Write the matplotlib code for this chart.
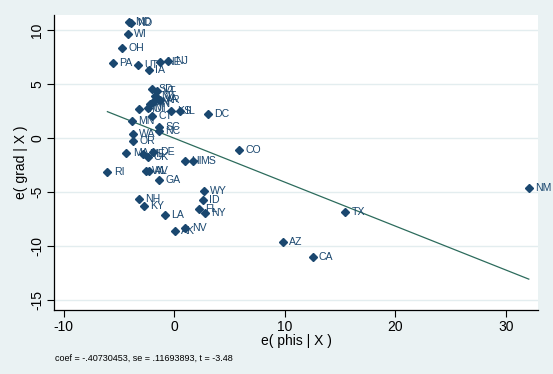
import matplotlib
matplotlib.use("Agg")
import matplotlib.pyplot as plt
import numpy as np

states = ["MD", "ND", "WI", "OH", "PA", "UT", "IA", "NE", "NJ",
          "SD", "VT", "MT", "VA", "AR", "IN", "TN",
          "MO", "MI", "CT", "KS", "IL", "DC",
          "MN", "WA", "OR", "SC", "NC",
          "MA", "ME", "DE", "OK",
          "RI", "WV", "AL", "GA", "HI", "MS", "CO",
          "WY", "ID", "FL", "NY", "NH", "KY", "LA", "NV", "AK",
          "AZ", "CA", "TX", "NM"]
e_phis = [-4.10, -3.92, -4.22, -4.73, -5.57, -3.31, -2.29, -1.29, -0.54,
          -2.05, -1.57, -1.75, -1.45, -1.29, -1.93, -2.20,
          -3.19, -2.38, -2.02, -0.30, 0.52, 3.02,
          -3.86, -3.76, -3.76, -1.38, -1.38,
          -4.34, -2.86, -1.90, -2.41,
          -6.06, -2.59, -2.29, -1.38, 0.97, 1.72, 5.86,
          2.69, 2.57, 2.24, 2.78, -3.19, -2.74, -0.84, 1.00, 0.06,
          9.81, 12.52, 15.45, 32.07]
e_grad = [10.79, 10.70, 9.70, 8.40, 7.01, 6.77, 6.34, 7.05, 7.20,
          4.53, 4.39, 3.92, 3.62, 3.55, 3.32, 3.18,
          2.75, 2.78, 2.07, 2.53, 2.53, 2.25,
          1.63, 0.40, -0.25, 1.08, 0.72,
          -1.36, -1.48, -1.27, -1.76,
          -3.10, -3.06, -3.03, -3.87, -2.11, -2.11, -1.09,
          -4.86, -5.72, -6.56, -6.96, -5.63, -6.28, -7.09, -8.29, -8.57,
          -9.59, -10.98, -6.81, -4.58]
coef = -0.40730453
se = 0.11693893
tstat = -3.48
xticks = [-10, 0, 10, 20, 30]
yticks = [-15, -10, -5, 0, 5, 10]

bg = "#EAF2F3"
mcol = "#1A476F"
lcol = "#2C6B5C"
font = "Liberation Sans"

fig = plt.figure(figsize=(5.53, 3.74), dpi=100, facecolor=bg)
ax = fig.add_axes([0.0977, 0.171, 0.8753, 0.790])
ax.set_facecolor("white")

for yt in yticks:
    ax.axhline(yt, color="#E3EDEF", lw=1.0, zorder=0)

xs = np.array(e_phis)
xline = np.array([xs.min(), xs.max()])
ax.plot(xline, coef * xline, color=lcol, lw=0.9, zorder=2)

ax.plot(e_phis, e_grad, linestyle="none", marker="D", ms=3.9,
        mfc=mcol, mec=mcol, zorder=3)
for s, x, y in zip(states, e_phis, e_grad):
    ax.annotate(s, (x, y), xytext=(4.5, 0), textcoords="offset points",
                va="center", ha="left", fontsize=7.6, color=mcol,
                family=font, zorder=4)

ax.set_xlim(-10.89, 32.91)
ax.set_ylim(-15.93, 11.47)
ax.set_xticks(xticks)
ax.set_yticks(yticks)
ax.set_xticklabels([str(t) for t in xticks], family=font, fontsize=10)
ax.set_yticklabels([str(t) for t in yticks], family=font, fontsize=10,
                   rotation=90, va="center")
ax.tick_params(direction="out", length=5, width=0.8, colors="black", pad=2)
for side in ["top", "right"]:
    ax.spines[side].set_visible(False)
for side in ["left", "bottom"]:
    ax.spines[side].set_linewidth(0.9)
    ax.spines[side].set_color("black")

ax.set_xlabel("e( phis | X )", family=font, fontsize=10, labelpad=0)
ax.set_ylabel("e( grad | X )", family=font, fontsize=10, labelpad=2)

fig.text(55 / 553, 1 - 358 / 374,
         f"coef = {coef:.8f}".replace("-0.", "-.") + f", se = {se:.8f}".replace("0.", ".") + f", t = {tstat:.2f}",
         family=font, fontsize=6.5, va="center", ha="left")

fig.savefig("out.png", dpi=100, facecolor=bg)
